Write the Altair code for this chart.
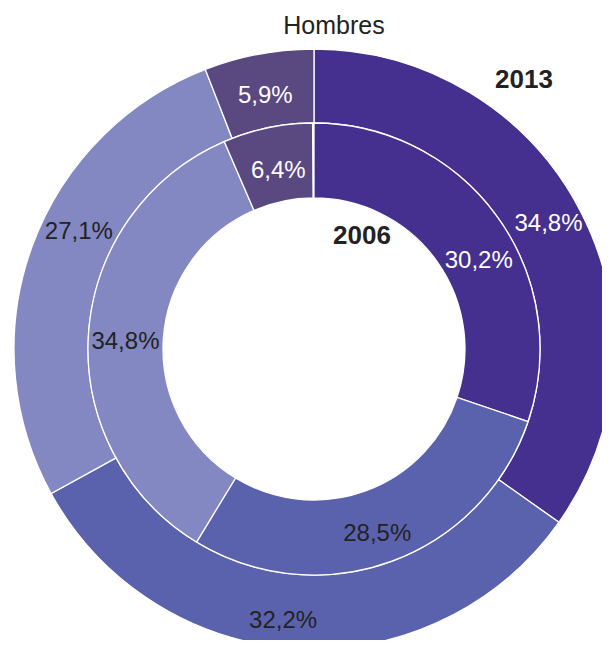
import altair as alt
import pandas as pd

categories = ["A", "B", "C", "D"]
values_2013 = [34.8, 32.2, 27.1, 5.9]
values_2006 = [30.2, 28.5, 34.8, 6.4]
labels_2013 = ["34,8%", "32,2%", "27,1%", "5,9%"]
labels_2006 = ["30,2%", "28,5%", "34,8%", "6,4%"]
colors = ["#452f8f", "#5b62ad", "#8388c2", "#5a4880"]
text_colors = ["white", "#222222", "#222222", "white"]

def frame(vals, labs):
    return pd.DataFrame({
        "cat": categories,
        "order": list(range(len(categories))),
        "value": vals,
        "label": labs,
        "tcolor": text_colors,
    })

df13 = frame(values_2013, labels_2013)
df06 = frame(values_2006, labels_2006)

CX, CY = 306, 341
R_IN, R_MID, R_OUT = 151, 226, 300
FONT = "Liberation Sans"

color_scale = alt.Scale(domain=categories, range=colors)

def ring(df, r0, r1):
    return alt.Chart(df).mark_arc(innerRadius=r0, outerRadius=r1, stroke="white", strokeWidth=1.3).encode(
        theta=alt.Theta("value:Q", stack=True),
        order=alt.Order("order:Q"),
        color=alt.Color("cat:N", scale=color_scale, legend=None),
        x=alt.value(CX), y=alt.value(CY),
    )

def labels(df, r, nudges):
    layers = []
    for cat in categories:
        ddx, ddy = nudges.get(cat, (0, 0))
        layers.append(
            alt.Chart(df).mark_text(radius=r, font=FONT, fontSize=24, dx=ddx, dy=ddy).encode(
                theta=alt.Theta("value:Q", stack=True),
                order=alt.Order("order:Q"),
                text="label:N",
                color=alt.Color("tcolor:N", scale=None),
                opacity=alt.condition(alt.datum.cat == cat, alt.value(1), alt.value(0)),
                x=alt.value(CX), y=alt.value(CY),
            )
        )
    return alt.layer(*layers)

hombres = alt.Chart(pd.DataFrame({"t": ["Hombres"]})).mark_text(font=FONT, fontSize=25, color="#222222").encode(
    text="t:N", x=alt.value(326), y=alt.value(18))
yr13 = alt.Chart(pd.DataFrame({"t": ["2013"]})).mark_text(font=FONT, fontSize=26, fontWeight="bold", color="#222222").encode(
    text="t:N", x=alt.value(516), y=alt.value(72))
yr06 = alt.Chart(pd.DataFrame({"t": ["2006"]})).mark_text(font=FONT, fontSize=26, fontWeight="bold", color="#222222").encode(
    text="t:N", x=alt.value(354), y=alt.value(228))

chart = alt.layer(
    ring(df13, R_MID, R_OUT),
    ring(df06, R_IN, R_MID),
    labels(df13, 264, {"A": (0, -4), "B": (-16, 8), "C": (13, -27), "D": (0, 6)}),
    labels(df06, 188, {"A": (12, 22), "B": (-1, 8), "C": (-1, 6), "D": (3, 6)}),
    hombres, yr13, yr06,
).properties(
    width=594, height=632, padding=0, autosize=alt.AutoSizeParams(type="none")
).configure_view(stroke=None)

chart.save("out.html", embed_options={"renderer": "svg", "actions": False})
